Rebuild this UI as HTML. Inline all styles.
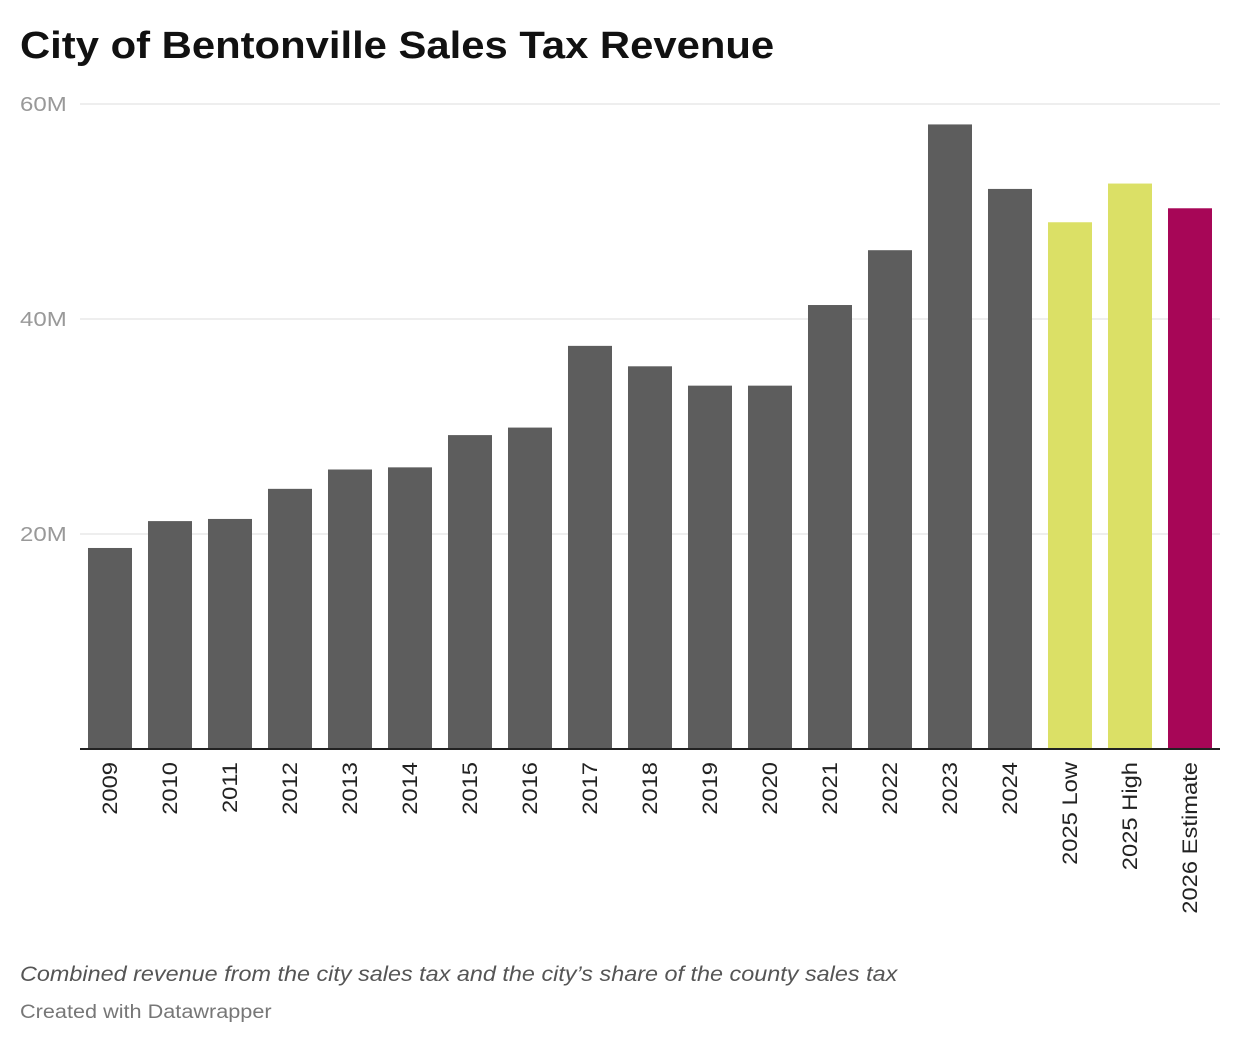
<!DOCTYPE html>
<html><head><meta charset="utf-8"><style>
body{margin:0;background:#fff;width:1240px;height:1046px;overflow:hidden;font-family:"Liberation Sans",sans-serif}
.t{position:absolute;left:20px;transform-origin:0 0;white-space:nowrap}
#title{top:25px;font-size:38px;font-weight:bold;color:#111;transform:scaleX(1.1)}
#sub{top:963px;font-size:21px;font-style:italic;color:#555;transform:scaleX(1.114)}
#credit{top:1002px;font-size:19px;color:#777;transform:scaleX(1.14)}
svg{position:absolute;left:0;top:0}
</style></head><body>
<div id="title" class="t">City of Bentonville Sales Tax Revenue</div>
<svg id="chart" width="1240" height="1046"></svg>
<div id="sub" class="t">Combined revenue from the city sales tax and the city’s share of the county sales tax</div>
<div id="credit" class="t">Created with Datawrapper</div>
<script>
const categories=["2009","2010","2011","2012","2013","2014","2015","2016","2017","2018","2019","2020","2021","2022","2023","2024","2025 Low","2025 High","2026 Estimate"];
const values=[18.7,21.2,21.4,24.2,26.0,26.2,29.2,29.9,37.5,35.6,33.8,33.8,41.3,46.4,58.1,52.1,49.0,52.6,50.3];
const barKinds=["actual","actual","actual","actual","actual","actual","actual","actual","actual","actual","actual","actual","actual","actual","actual","actual","range","range","estimate"];
const ticks=[20,40,60];
const tickLabels=["20M","40M","60M"];
const colors={actual:"#5d5d5d",range:"#dbe066",estimate:"#a70657"};
const NS="http://www.w3.org/2000/svg";
const svg=document.getElementById('chart');
const x0=80,x1=1220,yBase=749,yTop=104,maxV=60;
const y=v=>yBase-(v/maxV)*(yBase-yTop);
const band=(x1-x0)/categories.length;
const bx=i=>x0+i*band+band*0.1333;
const bw=band*0.7333;
function mk(t,a){const e=document.createElementNS(NS,t);for(const k in a)e.setAttribute(k,a[k]);svg.appendChild(e);return e;}
function widen(e,f){const w=e.getComputedTextLength();e.setAttribute('textLength',w*f);e.setAttribute('lengthAdjust','spacingAndGlyphs');}
ticks.forEach((t,i)=>{
  const l=mk('line',{x1:x0,x2:x1,y1:y(t),y2:y(t),stroke:'#e3e3e3','stroke-width':1.2});
  
  
  const tx=mk('text',{x:20,y:y(t)+7,'font-size':20,fill:'#999','font-family':'Liberation Sans, sans-serif'});
  tx.textContent=tickLabels[i];
  
  
  widen(tx,1.2);
});
values.forEach((v,i)=>{
  const r=mk('rect',{x:bx(i),y:y(v),width:bw,height:yBase-y(v),fill:colors[barKinds[i]]});
  
  
  const cx=bx(i)+bw/2+7;
  const t=mk('text',{x:cx,y:762,'font-size':21,fill:'#222','text-anchor':'end',transform:`rotate(-90 ${cx} 762)`,'font-family':'Liberation Sans, sans-serif'});
  t.textContent=categories[i];
  
  
  widen(t,1.13);
});
const b=mk('line',{x1:x0,x2:x1,y1:yBase,y2:yBase,stroke:'#222','stroke-width':2});


</script>
</body></html>
